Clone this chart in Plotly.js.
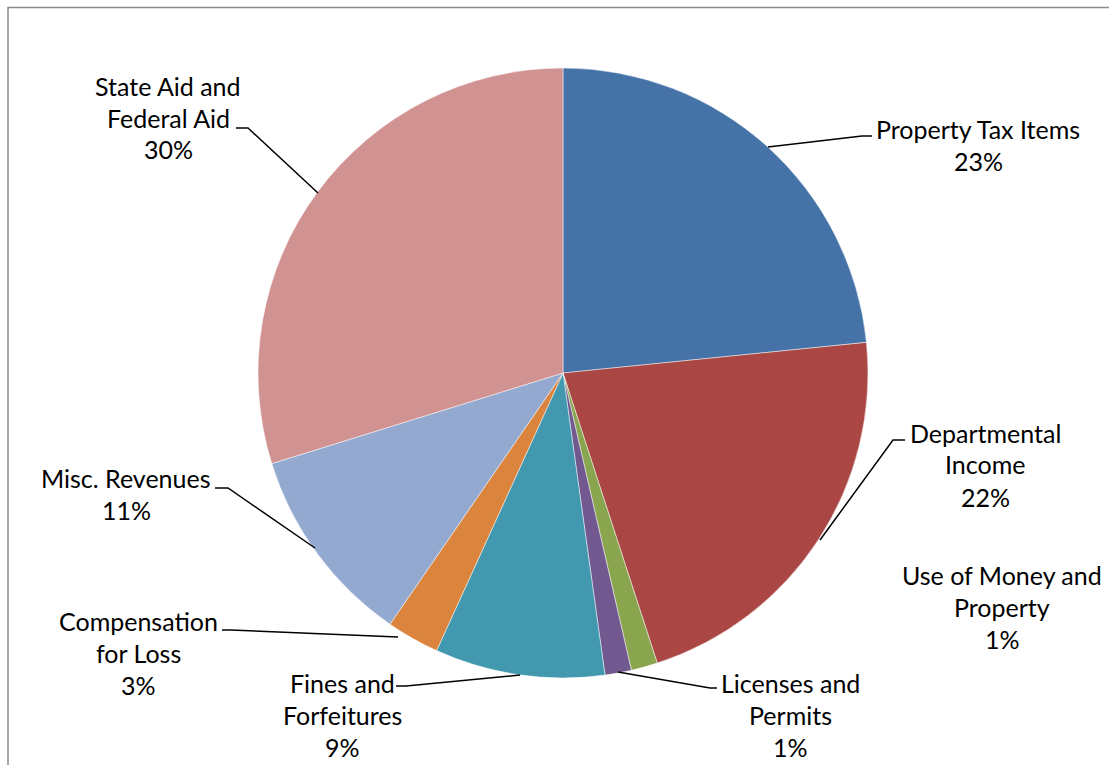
<!DOCTYPE html>
<html>
<head>
<meta charset="utf-8">
<script src="https://cdn.plot.ly/plotly-3.0.1.min.js"></script>
<style>html,body{margin:0;padding:0;background:#fff;}#chart{width:1109px;height:765px;}</style>
</head>
<body>
<div id="chart"></div>
<script>
// ---- data ----
var categories = ["Property Tax Items", "Departmental Income", "Use of Money and Property", "Licenses and Permits", "Fines and Forfeitures", "Compensation for Loss", "Misc. Revenues", "State Aid and Federal Aid"];
var shares = [23.4, 21.6, 1.4, 1.4, 9.0, 2.8, 10.6, 29.8];
var labelLines = [["Property Tax Items"], ["Departmental", "Income"], ["Use of Money and", "Property"], ["Licenses and", "Permits"], ["Fines and", "Forfeitures"], ["Compensation", "for Loss"], ["Misc. Revenues"], ["State Aid and", "Federal Aid"]];
var colors = ["#4572A7", "#AA4643", "#89A54E", "#71588F", "#4198AF", "#DB843D", "#93A9CF", "#D19392"];

// ---- layout helpers (pixel -> paper) ----
var W = 1109, H = 765;
function px(x) { return x / W; }
function py(y) { return 1 - y / H; }

// label block centres (pixels) and leader line polylines (pixels)
var labelPos = [[978, 128.5], [985, 432.5], [1002, 574.5], [790, 682.5], [342, 682.5], [138, 620.5], [126, 477.5], [168, 85.5]];
var leaders = [
  [[768, 147], [862, 136], [872, 136]],
  [[820, 540], [893, 440], [905, 440]],
  null,
  [[618, 672], [710, 688], [717, 688]],
  [[520, 675], [406, 686], [396, 686]],
  [[398, 637], [230, 630], [222, 630]],
  [[315, 548], [228, 488], [215, 488]],
  [[318, 193], [248, 128], [236, 128]]
];
var lineGap = 32;

var total = shares.reduce(function (a, b) { return a + b; }, 0);
var annotations = [];
var fontSpec = {family: "Lato, 'Open Sans', sans-serif", size: 25, color: "#000"};
categories.forEach(function (c, i) {
  var lines = labelLines[i].concat([Math.round(shares[i] / total * 100) + "%"]);
  lines.forEach(function (t, k) {
    annotations.push({
      xref: "paper", yref: "paper",
      x: px(labelPos[i][0]), y: py(labelPos[i][1] + k * lineGap),
      text: t, showarrow: false, xanchor: "center", yanchor: "middle",
      font: fontSpec
    });
  });
});

var shapes = [{
  type: "rect", xref: "paper", yref: "paper",
  x0: px(8), x1: px(1120), y0: py(780), y1: py(7.5),
  line: {color: "#8c8c8c", width: 1.5}, fillcolor: "rgba(0,0,0,0)"
}];
leaders.forEach(function (pts) {
  if (!pts) return;
  var d = pts.map(function (p, k) { return (k ? "L" : "M") + px(p[0]) + "," + py(p[1]); }).join(" ");
  shapes.push({type: "path", xref: "paper", yref: "paper", path: d, line: {color: "#000", width: 1.5}});
});

var trace = {
  type: "pie",
  labels: categories,
  values: shares,
  sort: false,
  direction: "clockwise",
  rotation: 0,
  textinfo: "none",
  hoverinfo: "label+percent",
  marker: {colors: colors, line: {color: "rgba(255,255,255,0.6)", width: 0.8}},
  domain: {x: [px(258), px(868)], y: [py(678), py(68)]},
  showlegend: false
};

var layout = {
  width: W, height: H,
  margin: {l: 0, r: 0, t: 0, b: 0},
  paper_bgcolor: "#fff",
  showlegend: false,
  annotations: annotations,
  shapes: shapes
};

Plotly.newPlot("chart", [trace], layout, {displayModeBar: false, staticPlot: true});
</script>
</body>
</html>
